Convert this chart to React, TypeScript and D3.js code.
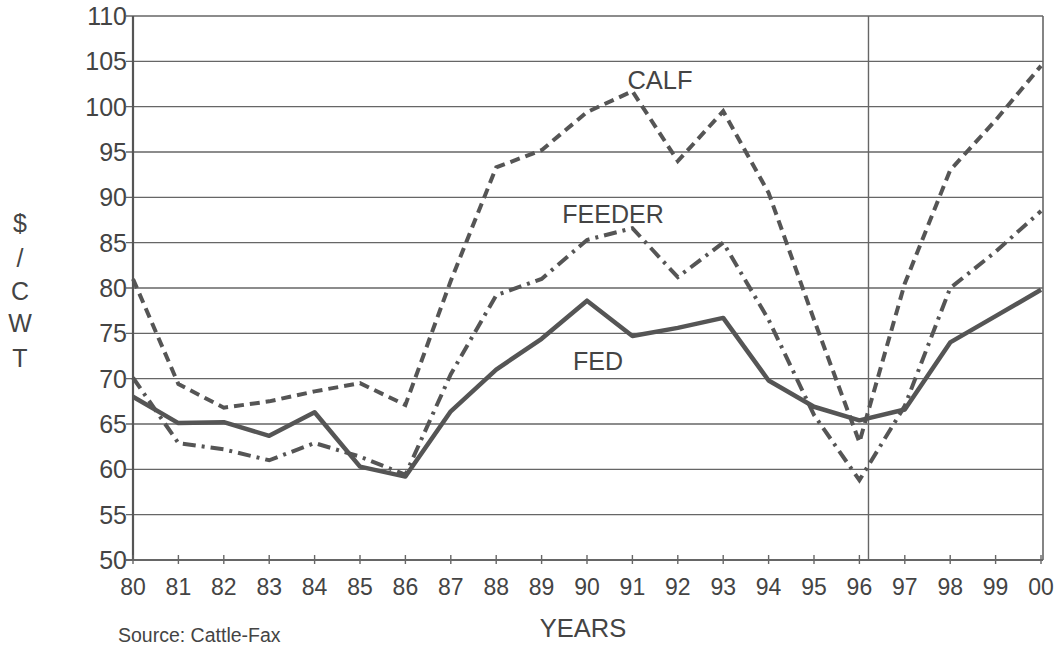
import React from "react";
import * as d3 from "d3";

const years = ["80","81","82","83","84","85","86","87","88","89","90","91","92","93","94","95","96","97","98","99","00"];
const calf = [81, 69.4, 66.8, 67.5, 68.6, 69.5, 67.1, 80.8, 93.3, 95.2, 99.4, 101.7, 94, 99.5, 90.5, 76.5, 63, 80.5, 93, 98.5, 104.5];
const feeder = [70.1, 62.9, 62.2, 61, 62.9, 61.4, 59.4, 70.5, 79.2, 81, 85.3, 86.6, 81.2, 85, 76.5, 66, 58.8, 67, 80, 84, 88.5];
const fed = [68, 65.1, 65.2, 63.7, 66.3, 60.3, 59.2, 66.4, 71, 74.4, 78.6, 74.7, 75.6, 76.7, 69.8, 66.9, 65.4, 66.6, 74, 76.9, 79.8];
const yTicks = [50, 55, 60, 65, 70, 75, 80, 85, 90, 95, 100, 105, 110];
const markerYear = 96.2;

export default function App() {
  const left = 133, right = 1041, top = 16, bottom = 560;
  const x = d3.scaleLinear().domain([0, years.length - 1]).range([left, right]);
  const y = d3.scaleLinear().domain([50, 110]).range([bottom, top]);
  const line = d3.line<number>().x((_, i) => x(i)).y((d) => y(d));
  const ink = "#555";
  const font = "'Liberation Sans', Arial, sans-serif";
  const yLetters = ["$", "/", "C", "W", "T"];
  const yLetterY = [232, 267, 300, 332, 367];
  return (
    <svg width={1055} height={645} style={{ position: "absolute", left: 0, top: 0, background: "#fff" }} fontFamily={font}>
      {yTicks.map((t) => (
        <g key={t}>
          <line x1={left - 7} x2={right + 2} y1={y(t)} y2={y(t)} stroke="#666" strokeWidth={t === 50 ? 2.2 : 1.4} />
          <text x={left - 6} y={y(t) + 9} textAnchor="end" fontSize={25} fill="#444">{t}</text>
        </g>
      ))}
      <line x1={left} x2={left} y1={top} y2={bottom} stroke="#555" strokeWidth={2.2} />
      <line x1={right + 2} x2={right + 2} y1={top} y2={bottom} stroke="#666" strokeWidth={1.6} />
      <line x1={x(markerYear - 80)} x2={x(markerYear - 80)} y1={top} y2={bottom} stroke="#666" strokeWidth={1.4} />
      {years.map((yr, i) => (
        <g key={yr}>
          <line x1={x(i)} x2={x(i)} y1={bottom - 5} y2={bottom + 4} stroke="#666" strokeWidth={1.4} />
          <text x={x(i)} y={595} textAnchor="middle" fontSize={23} fill="#444">{yr}</text>
        </g>
      ))}
      <path d={line(calf) || ""} fill="none" stroke={ink} strokeWidth={4} strokeDasharray="10 6" />
      <path d={line(feeder) || ""} fill="none" stroke={ink} strokeWidth={4} strokeDasharray="13 6 3 6" />
      <path d={line(fed) || ""} fill="none" stroke={ink} strokeWidth={4.5} strokeLinejoin="round" />
      <text x={660} y={89} textAnchor="middle" fontSize={25.5} fill="#444">CALF</text>
      <text x={613} y={223} textAnchor="middle" fontSize={25} fill="#444">FEEDER</text>
      <text x={598} y={370} textAnchor="middle" fontSize={25} fill="#444">FED</text>
      {yLetters.map((l, i) => (
        <text key={i} x={20} y={yLetterY[i]} textAnchor="middle" fontSize={25} fill="#444">{l}</text>
      ))}
      <text x={583} y={637} textAnchor="middle" fontSize={25.5} fill="#444">YEARS</text>
      <text x={118} y={642} fontSize={19.5} fill="#444">Source: Cattle-Fax</text>
    </svg>
  );
}
